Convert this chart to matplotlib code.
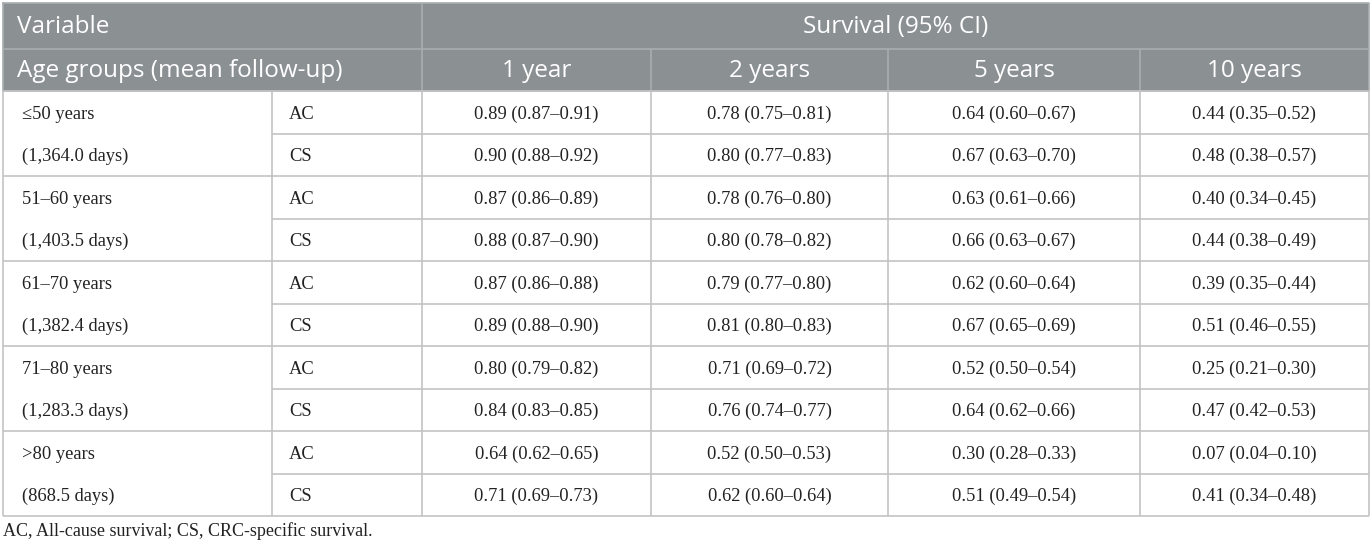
import matplotlib
matplotlib.use("Agg")
import matplotlib.pyplot as plt
from matplotlib.patches import Rectangle

# ---- data ----
age_groups = ["\u226450 years", "51\u201360 years", "61\u201370 years", "71\u201380 years", ">80 years"]
follow_up = ["(1,364.0 days)", "(1,403.5 days)", "(1,382.4 days)", "(1,283.3 days)", "(868.5 days)"]
measures = ["AC", "CS"]
time_labels = ["1 year", "2 years", "5 years", "10 years"]
yr1 = ["0.89 (0.87\u20130.91)", "0.90 (0.88\u20130.92)", "0.87 (0.86\u20130.89)", "0.88 (0.87\u20130.90)",
       "0.87 (0.86\u20130.88)", "0.89 (0.88\u20130.90)", "0.80 (0.79\u20130.82)", "0.84 (0.83\u20130.85)",
       "0.64 (0.62\u20130.65)", "0.71 (0.69\u20130.73)"]
yr2 = ["0.78 (0.75\u20130.81)", "0.80 (0.77\u20130.83)", "0.78 (0.76\u20130.80)", "0.80 (0.78\u20130.82)",
       "0.79 (0.77\u20130.80)", "0.81 (0.80\u20130.83)", "0.71 (0.69\u20130.72)", "0.76 (0.74\u20130.77)",
       "0.52 (0.50\u20130.53)", "0.62 (0.60\u20130.64)"]
yr5 = ["0.64 (0.60\u20130.67)", "0.67 (0.63\u20130.70)", "0.63 (0.61\u20130.66)", "0.66 (0.63\u20130.67)",
       "0.62 (0.60\u20130.64)", "0.67 (0.65\u20130.69)", "0.52 (0.50\u20130.54)", "0.64 (0.62\u20130.66)",
       "0.30 (0.28\u20130.33)", "0.51 (0.49\u20130.54)"]
yr10 = ["0.44 (0.35\u20130.52)", "0.48 (0.38\u20130.57)", "0.40 (0.34\u20130.45)", "0.44 (0.38\u20130.49)",
        "0.39 (0.35\u20130.44)", "0.51 (0.46\u20130.55)", "0.25 (0.21\u20130.30)", "0.47 (0.42\u20130.53)",
        "0.07 (0.04\u20130.10)", "0.41 (0.34\u20130.48)"]
header_var = "Variable"
header_surv = "Survival (95% CI)"
header_age = "Age groups (mean follow-up)"
footnote = "AC, All-cause survival; CS, CRC-specific survival."

# ---- layout (pixels) ----
W, H = 1372, 546
fig = plt.figure(figsize=(W / 100, H / 100), dpi=100)
ax = fig.add_axes([0, 0, 1, 1])
ax.set_xlim(0, W)
ax.set_ylim(H, 0)
ax.axis("off")

cols = [3, 272, 422, 651, 888, 1140, 1369]
y_top, y_h1, y_h2, y_bot = 3, 49, 91, 516
nrows = 10
rh = (y_bot - y_h2) / nrows
hdr_col = "#8b9093"
hdr_line = "#a9adaf"
body_line = "#c3c3c3"
sans = "Open Sans"
serif = "Liberation Serif"

ax.add_patch(Rectangle((cols[0], y_top), cols[-1] - cols[0], y_h2 - y_top,
                       facecolor=hdr_col, edgecolor="none"))
# header lines
ax.hlines(y_h1, cols[0], cols[-1], color=hdr_line, lw=1.2)
ax.vlines(cols[2], y_top, y_h2, color=hdr_line, lw=1.2)
for c in cols[3:6]:
    ax.vlines(c, y_h1, y_h2, color=hdr_line, lw=1.2)
ax.plot([cols[0], cols[-1], cols[-1], cols[0], cols[0]], [y_top, y_top, y_h2, y_h2, y_top],
        color=hdr_line, lw=1.2)

# body lines
for i in range(nrows + 1):
    y = y_h2 + i * rh
    x0 = cols[0] if i % 2 == 0 else cols[1]
    ax.hlines(y, x0, cols[-1], color=body_line, lw=1.2)
for c in cols:
    ax.vlines(c, y_h2, y_bot, color=body_line, lw=1.2)

hc = "white"
hfs = 17.5
ax.text(17, (y_top + y_h1) / 2 + 1, header_var, color=hc, fontsize=hfs, family=sans,
        ha="left", va="center")
ax.text((cols[2] + cols[-1]) / 2, (y_top + y_h1) / 2 + 1, header_surv, color=hc, fontsize=hfs,
        family=sans, ha="center", va="center")
ax.text(17, (y_h1 + y_h2) / 2 + 1, header_age, color=hc, fontsize=hfs, family=sans,
        ha="left", va="center")
for j, lab in enumerate(time_labels):
    ax.text((cols[2 + j] + cols[3 + j]) / 2, (y_h1 + y_h2) / 2 + 1, lab, color=hc,
            fontsize=hfs, family=sans, ha="center", va="center")

tc = "#222222"
fs = 13.3
series = [yr1, yr2, yr5, yr10]
for g in range(len(age_groups)):
    for k in range(2):
        r = 2 * g + k
        yc = y_h2 + (r + 0.5) * rh + 2
        lab = age_groups[g] if k == 0 else follow_up[g]
        ax.text(22, yc, lab, fontsize=fs, family=serif, color=tc, ha="left", va="center")
        ax.text(cols[1] + 17, yc, measures[k], fontsize=fs, family=serif, color=tc,
                ha="left", va="center")
        for j, s in enumerate(series):
            ax.text((cols[2 + j] + cols[3 + j]) / 2, yc, s[r], fontsize=fs, family=serif,
                    color=tc, ha="center", va="center")

ax.text(3, 531, footnote, fontsize=13, family=serif, color=tc, ha="left", va="center")

fig.savefig("out.png", dpi=100, facecolor="white")
